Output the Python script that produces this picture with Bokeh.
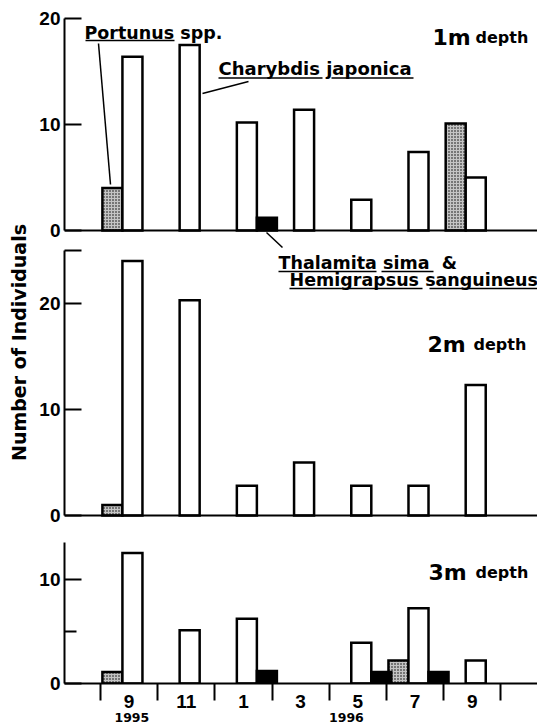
import math
from bokeh.plotting import figure
from bokeh.models import FixedTicker, LinearAxis, Range1d, Span
from bokeh.layouts import column, row
from bokeh.embed import file_html
from bokeh.resources import INLINE
from bokeh.core.properties import value

# ---------------- data ----------------
month_labels = ["9", "11", "1", "3", "5", "7", "9"]
month_pos = [9, 11, 13, 15, 17, 19, 21]          # Sep 1995 ... Sep 1996 (months since Jan 1995)
tick_bounds = [8, 10, 12, 14, 16, 18, 20, 22]
year_labels = ["1995", "1996"]
year_pos = [91, 166]                             # tenths of a month

charybdis_1m = [16.4, 17.5, 10.2, 11.4, 2.9, 7.4, 5.0]
portunus_1m = [4.0, 0, 0, 0, 0, 0, 10.1]
thal_hemi_1m = [0, 0, 1.2, 0, 0, 0, 0]

charybdis_2m = [24.0, 20.3, 2.8, 5.0, 2.8, 2.8, 12.3]
portunus_2m = [1.0, 0, 0, 0, 0, 0, 0]
thal_hemi_2m = [0, 0, 0, 0, 0, 0, 0]

charybdis_3m = [12.5, 5.1, 6.2, 0, 3.9, 7.2, 2.2]
portunus_3m = [1.1, 0, 0, 0, 0, 2.2, 0]
thal_hemi_3m = [0, 0, 1.2, 0, 1.1, 1.1, 0]

# ---------------- layout helpers ----------------
X0, X1 = 6.745, 23.28
FW = 473
LW = 36                       # width of the strip holding the y-axis title
PX = FW / (X1 - X0)


def mx(px):
    return X0 + (px - 64) / PX


FONT = "DejaVu Sans"
TICKFONT = "Liberation Sans"


def make_fig(frame_h, ymin, ymax, top, ticks, minor=(), overrides=None, border_top=0):
    p = figure(frame_width=FW, frame_height=frame_h,
               x_range=Range1d(X0, X1), y_range=Range1d(ymin, ymax),
               output_backend="svg", toolbar_location=None,
               min_border_left=64 - LW, min_border_right=0,
               min_border_top=border_top, min_border_bottom=0)
    p.outline_line_color = None
    p.grid.visible = False
    p.xaxis.visible = False
    ax = p.yaxis[0]
    ax.bounds = (0, top)
    ax.ticker = FixedTicker(ticks=list(ticks), minor_ticks=list(minor))
    if overrides:
        ax.major_label_overrides = overrides
    ax.axis_line_width = 2
    ax.major_tick_line_width = 2
    ax.minor_tick_line_width = 2
    ax.major_tick_in = 17
    ax.major_tick_out = 0
    ax.minor_tick_in = 12
    ax.minor_tick_out = 0
    ax.major_label_standoff = 4
    ax.major_label_text_font = TICKFONT
    ax.major_label_text_font_style = "bold"
    ax.major_label_text_font_size = "19px"
    ax.major_label_text_color = "black"
    return p


def bars(p, vals, off, **style):
    xs = [m + off for m, v in zip(month_pos, vals) if v > 0]
    ts = [v for v in vals if v > 0]
    if xs:
        p.vbar(x=xs, top=ts, bottom=0, width=0.7, line_color="black",
               line_width=2.5, line_join="miter", **style)


def all_bars(p, ch, po, th):
    bars(p, po, -0.58, fill_color="#c4c4c4", hatch_pattern="dot", hatch_scale=3,
         hatch_color="black", hatch_weight=1.5)
    bars(p, ch, 0.12, fill_color="white")
    bars(p, th, 0.82, fill_color="black")


def txt(p, x, y, s, size, align="left", baseline="middle", angle=0.0):
    p.text(x=[x], y=[y], text=[s], text_font=value(FONT), text_font_style="bold",
           text_font_size=size, text_align=align, text_baseline=baseline,
           text_color="black", angle=angle)


def seg(p, x0, y0, x1, y1, w=1.5):
    p.segment(x0=[x0], y0=[y0], x1=[x1], y1=[y1], line_color="black", line_width=w)


# ---------------- panel 1 : 1 m ----------------
B1, S1 = 230, 10.6
vy1 = lambda py: (B1 - py) / S1
p1 = make_fig(240, vy1(248), vy1(8), 20, [0, 10, 20], border_top=8)
p1.add_layout(Span(location=0, dimension="width", line_color="black", line_width=2))
all_bars(p1, charybdis_1m, portunus_1m, thal_hemi_1m)

txt(p1, mx(84), vy1(32), "Portunus spp.", "17.5px")
seg(p1, mx(85), vy1(40), mx(174), vy1(40))
seg(p1, mx(98), vy1(43), mx(110), vy1(184))
txt(p1, mx(218), vy1(68), "Charybdis japonica", "18px")
seg(p1, mx(218), vy1(77.5), mx(322), vy1(77.5))
seg(p1, mx(331), vy1(77.5), mx(413), vy1(77.5))
seg(p1, mx(248), vy1(81), mx(202), vy1(93))
txt(p1, mx(432), vy1(37), "1m", "22px", baseline="alphabetic")
txt(p1, mx(475), vy1(37), "depth", "16px", baseline="alphabetic")
seg(p1, mx(266), vy1(232), mx(282), vy1(247))   # leader to Thalamita / Hemigrapsus

# ---------------- panel 2 : 2 m ----------------
B2, S2 = 515, 10.6
vy2 = lambda py: (B2 - py) / S2
p2 = make_fig(279, vy2(527), vy2(248), 25, [0, 10, 20, 25], overrides={25: ""})
p2.add_layout(Span(location=0, dimension="width", line_color="black", line_width=2))
all_bars(p2, charybdis_2m, portunus_2m, thal_hemi_2m)

txt(p2, mx(278), vy2(262), "Thalamita sima\u00a0\u00a0&", "17.5px")
seg(p2, mx(278), vy2(271), mx(376), vy2(271))
seg(p2, mx(381), vy2(271), mx(433), vy2(271))
txt(p2, mx(289), vy2(279), "Hemigrapsus sanguineus", "17.5px")
seg(p2, mx(289), vy2(288), mx(422), vy2(288))
seg(p2, mx(429), vy2(288), mx(537), vy2(288))
txt(p2, mx(427), vy2(344), "2m", "22px", baseline="alphabetic")
txt(p2, mx(473), vy2(344), "depth", "16px", baseline="alphabetic")

# ---------------- panel 3 : 3 m ----------------
B3, S3 = 683, 10.45
vy3 = lambda py: (B3 - py) / S3
p3 = make_fig(156, 0, vy3(527), 13.5, [0, 10], minor=[5])
all_bars(p3, charybdis_3m, portunus_3m, thal_hemi_3m)
txt(p3, mx(428), vy3(572), "3m", "22px", baseline="alphabetic")
txt(p3, mx(475), vy3(572), "depth", "16px", baseline="alphabetic")

xa = p3.xaxis[0]
xa.visible = True
xa.ticker = FixedTicker(ticks=month_pos, minor_ticks=tick_bounds)
xa.major_label_overrides = {m: s for m, s in zip(month_pos, month_labels)}
xa.axis_line_width = 2
xa.major_tick_in = 0
xa.major_tick_out = 0
xa.minor_tick_in = 0
xa.minor_tick_out = 17
xa.minor_tick_line_width = 2
xa.major_label_standoff = -6
xa.major_label_text_font = TICKFONT
xa.major_label_text_font_style = "bold"
xa.major_label_text_font_size = "19px"
xa.major_label_text_color = "black"

p3.extra_x_ranges = {"yr": Range1d(X0 * 10, X1 * 10)}
ya = LinearAxis(x_range_name="yr", ticker=FixedTicker(ticks=year_pos),
                major_label_overrides={y: s for y, s in zip(year_pos, year_labels)},
                axis_line_color=None, major_tick_line_color=None, minor_tick_line_color=None,
                major_tick_in=0, major_tick_out=0,
                major_label_standoff=2, major_label_text_font=FONT,
                major_label_text_font_style="bold", major_label_text_font_size="12.5px",
                major_label_text_color="black")
p3.add_layout(ya, "below")

# ---------------- strip with the shared y-axis title ----------------
LH = 700
pl = figure(width=LW, height=LH, x_range=Range1d(0, LW), y_range=Range1d(LH, 0),
            output_backend="svg", toolbar_location=None,
            min_border=0, min_border_left=0, min_border_right=0,
            min_border_top=0, min_border_bottom=0)
pl.axis.visible = False
pl.grid.visible = False
pl.outline_line_color = None
txt(pl, 18, 342, "Number of Individuals", "19px", align="center", angle=math.pi / 2)

layout = row(pl, column(p1, p2, p3, spacing=0), spacing=0)
open("out.html", "w").write(file_html(layout, INLINE))
